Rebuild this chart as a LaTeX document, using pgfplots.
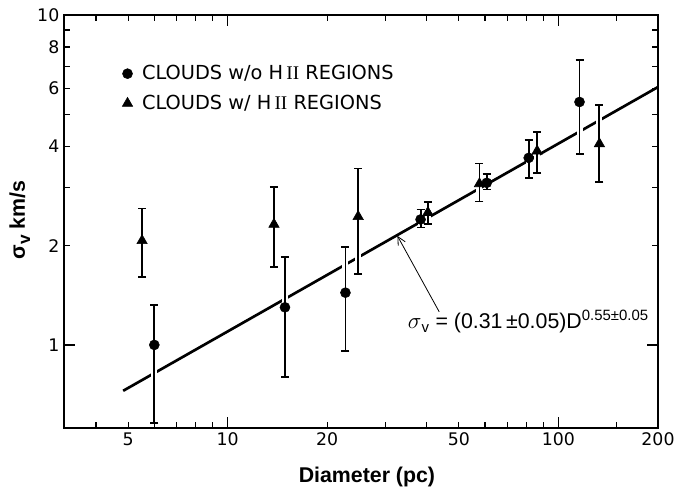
\documentclass[border=0pt]{standalone}
\usepackage{fontspec}
\setmainfont{DejaVu Sans}
\newfontfamily\labelfont{Liberation Sans}
\newfontfamily\seriffont{Liberation Serif}
\usepackage{pgfplots}
\pgfplotsset{compat=1.18}
\usetikzlibrary{arrows.meta}

% clouds without HII regions: x y err+ err-
\pgfplotstableread{
x     y     ep    em
6.0   1.00  0.32  0.42
14.9  1.30  0.55  0.50
22.7  1.44  0.54  0.48
38.3  2.40  0.17  0.13
60.7  3.10  0.20  0.14
81.3  3.69  0.49  0.48
115.8 5.45  1.86  1.66
}\noHII

% clouds with HII regions
\pgfplotstableread{
x     y     ep    em
5.51  2.07  0.52  0.46
13.8  2.32  0.69  0.60
24.8  2.45  0.98  0.81
40.3  2.52  0.19  0.19
57.7  3.08  0.47  0.36
86.2  3.87  0.55  0.55
133   4.07  1.26  0.95
}\withHII

\begin{document}
\begin{tikzpicture}
\begin{axis}[
  name=ax,
  xmode=log, ymode=log,
  scale only axis, width=445.5pt, height=309.75pt,
  xmin=3.2, xmax=200, ymin=0.56, ymax=10,
  axis line style={line width=1.8pt},
  tick style={line width=0.9pt, black},
  major tick length=8pt, minor tick length=4.5pt,
  xtick={10,100}, xticklabels={10,100},
  extra x ticks={5,20,50,200}, extra x tick labels={5,20,50,200},
  extra x tick style={major tick length=4.5pt},
  minor xtick={4,6,7,8,9,30,40,60,70,80,90,150},
  ytick={1,10}, yticklabels={1,10},
  extra y ticks={2,4,6,8}, extra y tick labels={2,4,6,8},
  extra y tick style={major tick length=4.5pt},
  minor ytick={3,5,7,9},
  ticklabel style={font=\fontsize{13}{15}\selectfont},
  xlabel={Diameter (pc)},
  ylabel={σ\raisebox{-0.45ex}{\fontsize{13}{13}\selectfont v} km/s},
  xlabel style={font=\labelfont\bfseries\fontsize{16}{18}\selectfont,
    at={(axis description cs:0.51,-0.133)}, anchor=base},
  ylabel style={font=\labelfont\bfseries\fontsize{16}{18}\selectfont,
    at={(axis description cs:-0.0657,0.504)}, anchor=base},
  legend style={draw=none, fill=none, at={(axis description cs:0.091,0.822)},
    anchor=west, font=\fontsize{14.5}{17}\selectfont, row sep=6pt},
  legend cell align=left,
]
% fitted power law
\addplot[black, line width=2pt, no marks, forget plot] coordinates {(4.83,0.726)(200,6.05)};

% white halos behind the error bars, so the line shows gaps
\addplot[only marks, mark=none, forget plot,
  error bars/.cd, y dir=both, y explicit, error mark=none,
  error bar style={draw=white, line width=4.5pt}]
  table[x=x, y=y, y error plus=ep, y error minus=em] {\noHII};
\addplot[only marks, mark=none, forget plot,
  error bars/.cd, y dir=both, y explicit, error mark=none,
  error bar style={draw=white, line width=4.5pt}]
  table[x=x, y=y, y error plus=ep, y error minus=em] {\withHII};

\addplot[only marks, black, mark=*, mark size=3.75pt,
  error bars/.cd, y dir=both, y explicit,
  error bar style={line width=1.4pt},
  error mark options={rotate=90, mark size=3pt, line width=1.2pt}]
  table[x=x, y=y, y error plus=ep, y error minus=em] {\noHII};
\addlegendentry{\hspace{5pt}CLOUDS w/o H\,{\seriffont II} REGIONS}

\addplot[only marks, black, mark=triangle*, mark size=4.5pt,
  error bars/.cd, y dir=both, y explicit,
  error bar style={line width=1.4pt},
  error mark options={rotate=90, mark size=3pt, line width=1.2pt}]
  table[x=x, y=y, y error plus=ep, y error minus=em] {\withHII};
\addlegendentry{\hspace{5pt}CLOUDS w/ H\,{\seriffont II} REGIONS}

\draw[line width=0.6pt, -{Straight Barb[length=6pt,width=6pt]}] (axis cs:43.6,1.26) -- (axis cs:32.6,2.14);
\node[anchor=base west, inner sep=0pt, font=\labelfont\fontsize{16}{18}\selectfont]
  at (axis cs:35,1.118) {$\sigma$\textsubscript{v} = (0.31\,±0.05)D\textsuperscript{0.55±0.05}};
\end{axis}
\pgfresetboundingbox
\path[use as bounding box] ([shift={(-48pt,-46.5pt)}]ax.south west) rectangle ([shift={(17.25pt,11.25pt)}]ax.north east);
\end{tikzpicture}
\end{document}
